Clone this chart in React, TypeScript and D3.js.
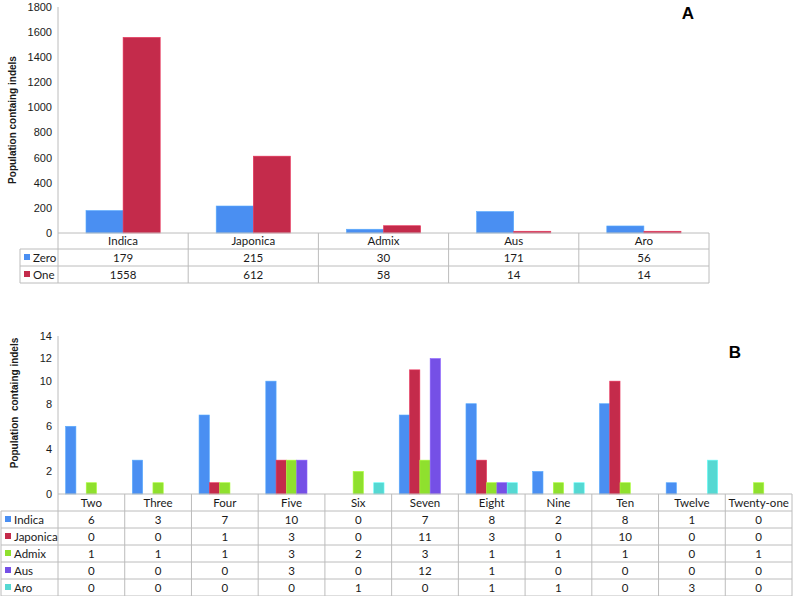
import React from "react";
import * as d3 from "d3";

const catsA = ["Indica", "Japonica", "Admix", "Aus", "Aro"];
const seriesA = ["Zero", "One"];
const zeroA = [179, 215, 30, 171, 56];
const oneA = [1558, 612, 58, 14, 14];
const ticksA = [0, 200, 400, 600, 800, 1000, 1200, 1400, 1600, 1800];

const catsB = ["Two", "Three", "Four", "Five", "Six", "Seven", "Eight", "Nine", "Ten", "Twelve", "Twenty-one"];
const seriesB = ["Indica", "Japonica", "Admix", "Aus", "Aro"];
const indicaB = [6, 3, 7, 10, 0, 7, 8, 2, 8, 1, 0];
const japonicaB = [0, 0, 1, 3, 0, 11, 3, 0, 10, 0, 0];
const admixB = [1, 1, 1, 3, 2, 3, 1, 1, 1, 0, 1];
const ausB = [0, 0, 0, 3, 0, 12, 1, 0, 0, 0, 0];
const aroB = [0, 0, 0, 0, 1, 0, 1, 1, 0, 3, 0];
const ticksB = [0, 2, 4, 6, 8, 10, 12, 14];

const colA = ["#4a8ff2", "#c42b4b"];
const colB = ["#4a8ff2", "#c42b4b", "#8fe02e", "#7550e6", "#55d8d2"];

const GRID = "#bcbcbc";
const TXT = "#1a1a1a";
const tickFont = "'Liberation Sans', Arial, sans-serif";
const tableFont = "Lato, 'Open Sans', sans-serif";

type PanelProps = {
  cats: string[];
  series: string[];
  values: number[][];
  colors: string[];
  ticks: number[];
  left: number;
  right: number;
  yTop: number;
  yBottom: number;
  rowH: number[];
  legendLeft: number;
  groupFrac: number;
  title: string;
  titleX: number;
  titleY: number;
  label: string;
  labelX: number;
  labelY: number;
};

function Panel(p: PanelProps) {
  const x0 = d3.scaleBand<string>().domain(p.cats).range([p.left, p.right]).padding(0);
  const bw = x0.bandwidth();
  const gw = bw * p.groupFrac;
  const x1 = d3.scaleBand<string>().domain(p.series).range([(bw - gw) / 2, (bw + gw) / 2]).padding(0);
  const y = d3.scaleLinear().domain([0, p.ticks[p.ticks.length - 1]]).range([p.yBottom, p.yTop]);

  const rowsY: number[] = [p.yBottom];
  p.rowH.forEach((h, i) => rowsY.push(rowsY[i] + h));
  const tableBottom = rowsY[rowsY.length - 1];

  return (
    <g>
      {p.cats.map((c, ci) =>
        p.series.map((s, si) => {
          const v = p.values[si][ci];
          if (v <= 0) return null;
          const yy = y(v);
          return (
            <rect
              key={c + s}
              x={(x0(c) as number) + (x1(s) as number)}
              y={yy}
              width={x1.bandwidth()}
              height={p.yBottom - yy}
              fill={p.colors[si]}
              stroke={d3.color(p.colors[si])!.brighter(0.5).formatHex()}
              strokeWidth={0.6}
            />
          );
        })
      )}
      <line x1={p.left} x2={p.left} y1={p.yTop} y2={p.yBottom} stroke={GRID} />
      {p.ticks.map((t) => (
        <text
          key={t}
          x={p.left - 6}
          y={y(t)}
          dy="0.35em"
          textAnchor="end"
          fontFamily={tickFont}
          fontSize={11}
          fill={TXT}
        >
          {t}
        </text>
      ))}
      <text
        transform={`translate(${p.titleX},${p.titleY}) rotate(-90)`}
        textAnchor="middle"
        fontFamily={tickFont}
        fontWeight="bold"
        fontSize={10}
        fill={TXT}
        style={{ whiteSpace: "pre" }}
      >
        {p.title}
      </text>
      <text x={p.labelX} y={p.labelY} textAnchor="middle" fontFamily={tickFont} fontWeight="bold" fontSize={17} fill="#000">
        {p.label}
      </text>
      <line x1={p.left} x2={p.right} y1={rowsY[0]} y2={rowsY[0]} stroke={GRID} />
      {rowsY.slice(1).map((ry, i) => (
        <line key={i} x1={p.legendLeft} x2={p.right} y1={ry} y2={ry} stroke={GRID} />
      ))}
      <line x1={p.legendLeft} x2={p.legendLeft} y1={rowsY[1]} y2={tableBottom} stroke={GRID} />
      {p.cats.map((c) => (
        <line key={c} x1={x0(c) as number} x2={x0(c) as number} y1={p.yBottom} y2={tableBottom} stroke={GRID} />
      ))}
      <line x1={p.right} x2={p.right} y1={p.yBottom} y2={tableBottom} stroke={GRID} />
      {p.cats.map((c) => (
        <text
          key={c}
          x={(x0(c) as number) + bw / 2}
          y={(rowsY[0] + rowsY[1]) / 2}
          dy="0.36em"
          textAnchor="middle"
          fontFamily={tableFont}
          fontSize={11.5}
          fill={TXT}
        >
          {c}
        </text>
      ))}
      {p.series.map((s, si) => {
        const cy = (rowsY[si + 1] + rowsY[si + 2]) / 2;
        return (
          <g key={s}>
            <rect x={p.legendLeft + 4} y={cy - 3.5} width={6} height={6} fill={p.colors[si]} />
            <text x={p.legendLeft + 13} y={cy} dy="0.36em" fontFamily={tableFont} fontSize={11.5} fill={TXT}>
              {s}
            </text>
            {p.cats.map((c, ci) => (
              <text
                key={c}
                x={(x0(c) as number) + bw / 2}
                y={cy}
                dy="0.36em"
                textAnchor="middle"
                fontFamily={tableFont}
                fontSize={11.5}
                fill={TXT}
              >
                {p.values[si][ci]}
              </text>
            ))}
          </g>
        );
      })}
    </g>
  );
}

export default function App() {
  return (
    <svg
      width={793}
      height={596}
      style={{ position: "absolute", left: 0, top: 0, background: "#fff" }}
    >
      <rect width={793} height={596} fill="#fff" />
      <Panel
        cats={catsA}
        series={seriesA}
        values={[zeroA, oneA]}
        colors={colA}
        ticks={ticksA}
        left={58}
        right={709}
        yTop={7}
        yBottom={233}
        rowH={[16, 17, 17]}
        legendLeft={20}
        groupFrac={0.57}
        title="Population containg indels"
        titleX={16}
        titleY={120}
        label="A"
        labelX={688}
        labelY={19}
      />
      <Panel
        cats={catsB}
        series={seriesB}
        values={[indicaB, japonicaB, admixB, ausB, aroB]}
        colors={colB}
        ticks={ticksB}
        left={58}
        right={792}
        yTop={336}
        yBottom={494}
        rowH={[17, 17, 17, 17, 17, 17]}
        legendLeft={1}
        groupFrac={0.772}
        title="Population  containg indels"
        titleX={18}
        titleY={403}
        label="B"
        labelX={735}
        labelY={358}
      />
    </svg>
  );
}
